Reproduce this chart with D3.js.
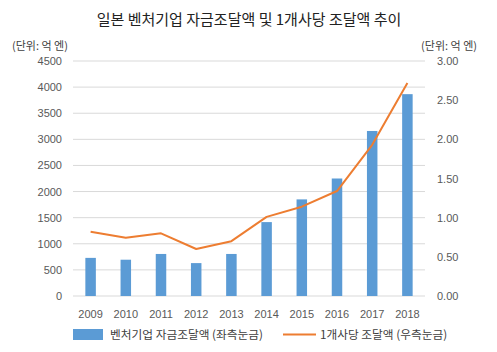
<!DOCTYPE html>
<html>
<head>
<meta charset="utf-8">
<script src="https://cdn.jsdelivr.net/npm/d3@7"></script>
<style>
  body { margin: 0; background: #fff; }
  text { font-family: "Noto Sans CJK KR", "Noto Sans", sans-serif; }
</style>
</head>
<body>
<div id="chart"></div>
<script>
// Data
const years = ["2009", "2010", "2011", "2012", "2013", "2014", "2015", "2016", "2017", "2018"];
const funding = [730, 695, 805, 630, 805, 1415, 1850, 2250, 3160, 3865];
const perCompany = [0.82, 0.745, 0.80, 0.60, 0.70, 1.01, 1.14, 1.34, 1.93, 2.72];
const leftTicks = [0, 500, 1000, 1500, 2000, 2500, 3000, 3500, 4000, 4500];
const rightTicks = [0, 0.5, 1, 1.5, 2, 2.5, 3];

const W = 497, H = 352;
const margin = { top: 61, right: 72, bottom: 56, left: 73 };
const width = W - margin.left - margin.right;
const height = H - margin.top - margin.bottom;

const svg = d3.select("#chart").append("svg")
    .attr("width", W)
    .attr("height", H);

const g = svg.append("g")
    .attr("transform", `translate(${margin.left},${margin.top})`);

// Scales
const x = d3.scaleBand().domain(years).range([0, width]);
const yL = d3.scaleLinear().domain([0, 4500]).range([height, 0]);
const yR = d3.scaleLinear().domain([0, 3]).range([height, 0]);

// Gridlines
g.append("g")
    .selectAll("line")
    .data(leftTicks)
    .enter()
    .append("line")
    .attr("x1", 0)
    .attr("x2", width)
    .attr("y1", d => yL(d))
    .attr("y2", d => yL(d))
    .style("stroke", "#d9d9d9")
    .style("stroke-width", 1);

// Axes (no domain lines)
const leftAxis = g.append("g")
    .call(d3.axisLeft(yL).tickValues(leftTicks).tickSize(0).tickPadding(11).tickFormat(d3.format("d")));
const rightAxis = g.append("g")
    .attr("transform", `translate(${width},0)`)
    .call(d3.axisRight(yR).tickValues(rightTicks).tickSize(0).tickPadding(12).tickFormat(d3.format(".2f")));
const bottomAxis = g.append("g")
    .attr("transform", `translate(0,${height})`)
    .call(d3.axisBottom(x).tickSize(0).tickPadding(14));

[leftAxis, rightAxis, bottomAxis].forEach(a => {
    a.select(".domain").remove();
    a.selectAll("text")
        .style("font-size", "11px")
        .style("fill", "#595959")
        .style("font-family", "'Liberation Sans', 'Noto Sans', sans-serif");
});

// Bars
const barW = 10.5;
g.selectAll(".bar")
    .data(funding)
    .enter()
    .append("rect")
    .attr("class", "bar")
    .attr("x", (d, i) => x(years[i]) + x.bandwidth() / 2 - barW / 2)
    .attr("y", d => yL(d))
    .attr("width", barW)
    .attr("height", d => height - yL(d))
    .style("fill", "#5b9bd5");

// Line
const line = d3.line()
    .x((d, i) => x(years[i]) + x.bandwidth() / 2)
    .y(d => yR(d));

g.append("path")
    .datum(perCompany)
    .attr("d", line)
    .style("fill", "none")
    .style("stroke", "#ed7d31")
    .style("stroke-width", 2)
    .style("stroke-linejoin", "round");

// Title
svg.append("text")
    .attr("x", 249)
    .attr("y", 25)
    .attr("text-anchor", "middle")
    .style("font-size", "15px")
    .style("fill", "#222")
    .text("일본 벤처기업 자금조달액 및 1개사당 조달액 추이");

// Unit labels
svg.append("text")
    .attr("x", 12)
    .attr("y", 50)
    .style("font-size", "11px")
    .style("fill", "#404040")
    .text("(단위: 억 엔)");

svg.append("text")
    .attr("x", 477)
    .attr("y", 50)
    .attr("text-anchor", "end")
    .style("font-size", "11px")
    .style("fill", "#404040")
    .text("(단위: 억 엔)");

// Legend
const legend = svg.append("g").attr("transform", "translate(73,334.5)");
legend.append("rect")
    .attr("x", 0)
    .attr("y", -5.5)
    .attr("width", 30)
    .attr("height", 11)
    .style("fill", "#5b9bd5");
legend.append("text")
    .attr("x", 37)
    .attr("y", 4)
    .style("font-size", "11.7px")
    .style("fill", "#404040")
    .text("벤처기업 자금조달액 (좌측눈금)");

legend.append("line")
    .attr("x1", 210)
    .attr("x2", 243)
    .attr("y1", 0)
    .attr("y2", 0)
    .style("stroke", "#ed7d31")
    .style("stroke-width", 2);
legend.append("text")
    .attr("x", 247)
    .attr("y", 4)
    .style("font-size", "11.7px")
    .style("fill", "#404040")
    .text("1개사당 조달액 (우측눈금)");
</script>
</body>
</html>
